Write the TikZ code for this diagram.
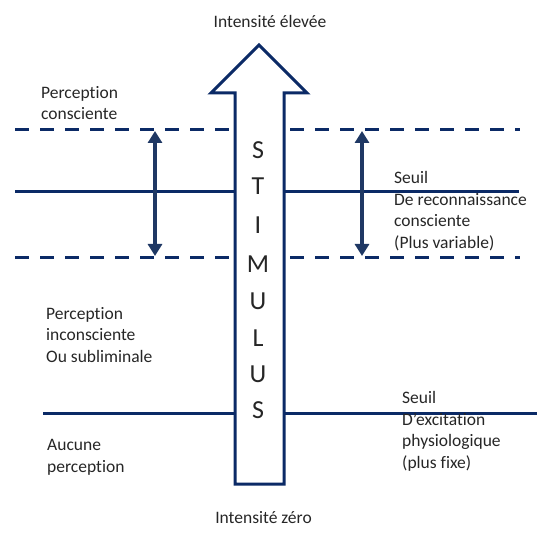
\documentclass[tikz,border=0pt]{standalone}
\usepackage{fontspec}
\setmainfont[Ligatures={NoCommon}]{Carlito}
\usetikzlibrary{arrows.meta}
\definecolor{navy}{HTML}{0B2A66}
\definecolor{arrnavy}{HTML}{1F3864}
\begin{document}
\begin{tikzpicture}[x=1pt,y=-1pt,
  hline/.style={draw=navy,line width=3pt},
  dline/.style={draw=navy,line width=3pt,dash pattern=on 14pt off 11pt},
  darrow/.style={draw=arrnavy,line width=3.2pt,{Triangle[width=14pt,length=12pt]}-{Triangle[width=14pt,length=12pt]}},
  lbl/.style={font=\fontsize{17.5}{21.5}\selectfont,align=left,anchor=base west,inner sep=0pt,text=black!85},
  ctr/.style={font=\fontsize{17.5}{21.5}\selectfont,anchor=base,inner sep=0pt,text=black!85},
  letter/.style={font=\fontsize{26}{26}\selectfont,inner sep=0pt,text=black!85}]
\useasboundingbox (0,0) rectangle (537,534);
% horizontal lines
\coordinate (d1l) at (15,130); \coordinate (d1r) at (520,130);
\coordinate (s1l) at (15,192); \coordinate (s1r) at (519,192);
\coordinate (d2l) at (15,257); \coordinate (d2r) at (520,257);
\coordinate (s2l) at (43,413); \coordinate (s2r) at (537,413);
\draw[dline] (d1l) -- (d1r);
\draw[dline] (d2l) -- (d2r);
\draw[hline] (s1l) -- (s1r);
\draw[hline] (s2l) -- (s2r);
% double arrows
\coordinate (a1t) at (155,131); \coordinate (a1b) at (155,256);
\coordinate (a2t) at (362,131); \coordinate (a2b) at (362,256);
\draw[darrow] (a1t) -- (a1b);
\draw[darrow] (a2t) -- (a2b);
% stimulus arrow
\draw[navy,line width=3pt,fill=white,line join=miter]
  (259,45) -- (307,93) -- (284,93) -- (284,484) -- (235,484) -- (235,93) -- (211,93) -- cycle;
% letters
\foreach \l/\y [count=\i] in {S/150.5,T/186.5,I/225,M/264,U/301,L/338,U/374,S/410}
  \node[letter] (let\i) at (258,\y) {\l};
% labels (base anchor = baseline of last line)
\node[ctr] (top) at (270,28) {Intensité élevée};
\node[ctr] (bot) at (263.5,523) {Intensité zéro};
\node[lbl] (pc) at (41,120) {Perception\\consciente};
\node[lbl] (seuil1) at (394,248) {Seuil\\De reconnaissance\\consciente\\(Plus variable)};
\node[lbl] (pi) at (46,362) {Perception\\inconsciente\\Ou subliminale};
\node[lbl] (ap) at (47,472) {Aucune\\perception};
\node[lbl] (seuil2) at (402,468) {Seuil\\D’excitation\\physiologique\\(plus fixe)};
\end{tikzpicture}
\end{document}
